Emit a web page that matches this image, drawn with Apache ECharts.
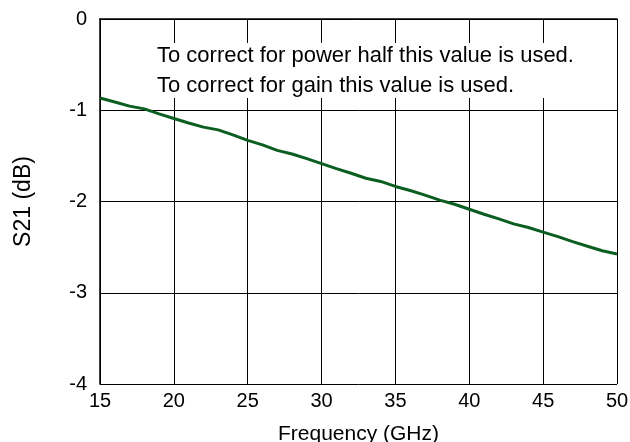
<!DOCTYPE html>
<html>
<head>
<meta charset="utf-8">
<script src="https://cdn.jsdelivr.net/npm/echarts@6/dist/echarts.min.js"></script>
<style>
  html, body { margin: 0; padding: 0; background: #fff; }
  #chart { width: 630px; height: 442px; }
</style>
</head>
<body>
<div id="chart"></div>
<script>
// frequency in GHz, S21 in dB
const freq = [15, 16, 17, 18, 19, 20, 21, 22, 23, 24, 25, 26, 27, 28, 29, 30, 31, 32,
  33, 34, 35, 36, 37, 38, 39, 40, 41, 42, 43, 44, 45, 46, 47, 48, 49, 50]
const s21 = [-0.865, -0.91, -0.955, -0.985, -1.04, -1.09, -1.14, -1.185, -1.215, -1.27,
  -1.33, -1.38, -1.44, -1.48, -1.53, -1.585, -1.64, -1.69, -1.745, -1.78,
  -1.835, -1.88, -1.93, -1.985, -2.03, -2.085, -2.14, -2.19, -2.245, -2.285,
  -2.335, -2.385, -2.44, -2.49, -2.54, -2.575]
const noteLines = [
  'To correct for power half this value is used.',
  'To correct for gain this value is used.'
]

const chart = echarts.init(document.getElementById('chart'))

const font = 'Liberation Sans, Arial, sans-serif'

chart.setOption({
  animation: false,
  grid: { left: 100, right: 13, top: 19, bottom: 58, containLabel: false, outerBoundsMode: 'none' },
  xAxis: {
    type: 'value',
    min: 15,
    max: 50,
    interval: 5,
    name: 'Frequency (GHz)',
    nameLocation: 'middle',
    nameGap: 40,
    nameTextStyle: { color: '#000', fontSize: 21, fontFamily: font },
    axisLine: { lineStyle: { color: '#000', width: 1.5 } },
    axisTick: { show: false },
    axisLabel: { color: '#000', fontSize: 20, fontFamily: font, margin: 7 },
    splitLine: { show: true, lineStyle: { color: '#000', width: 1 } }
  },
  yAxis: {
    type: 'value',
    min: -4,
    max: 0,
    interval: 1,
    name: 'S21 (dB)',
    nameLocation: 'middle',
    nameGap: 65,
    nameTextStyle: { color: '#000', fontSize: 23, fontFamily: font },
    axisLine: { show: true, lineStyle: { color: '#000', width: 1.5 } },
    axisTick: { show: false },
    axisLabel: { color: '#000', fontSize: 20, fontFamily: font, margin: 13 },
    splitLine: { show: true, lineStyle: { color: '#000', width: 1 } }
  },
  series: [
    {
      type: 'line',
      data: freq.map((f, i) => [f, s21[i]]),
      showSymbol: false,
      smooth: false,
      lineStyle: { color: '#0b5e1f', width: 3 },
      z: 3
    }
  ],
  graphic: [
    {
      type: 'rect',
      shape: { x: 150, y: 43, width: 428, height: 55 },
      style: { fill: '#fff' },
      z: 10
    },
    {
      type: 'text',
      left: 157,
      top: 41,
      z: 11,
      style: {
        text: noteLines.join('\n'),
        fill: '#000',
        font: '22px ' + font,
        lineHeight: 30
      }
    }
  ]
})
</script>
</body>
</html>
